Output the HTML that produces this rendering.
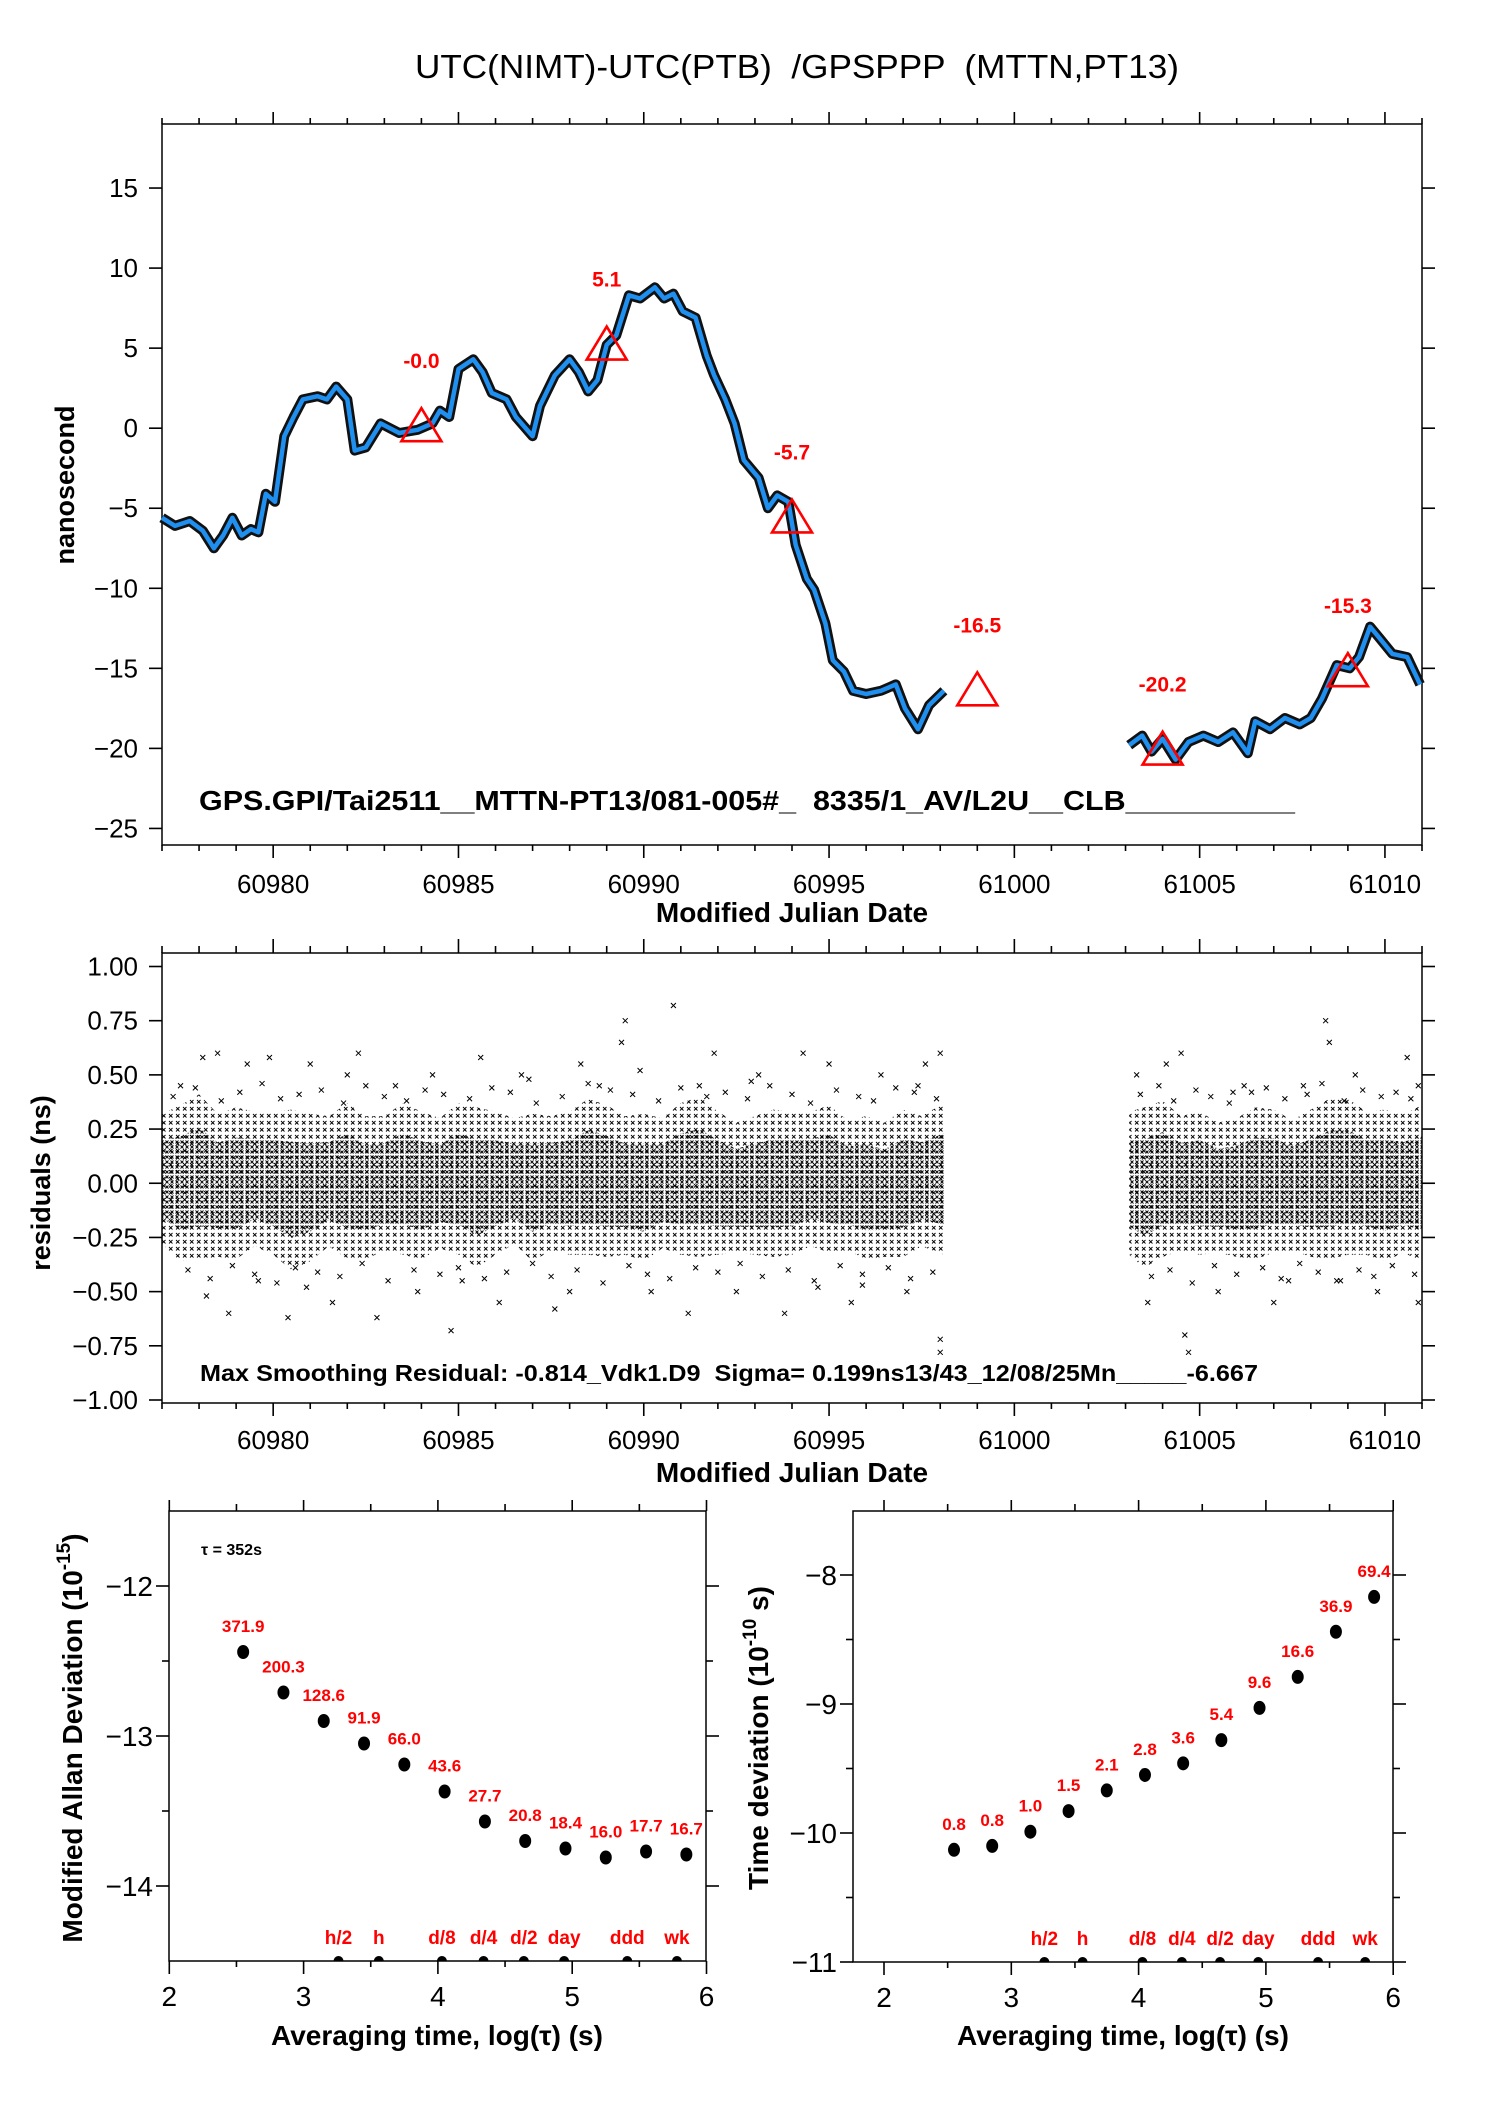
<!DOCTYPE html>
<html><head><meta charset="utf-8"><title>UTC(NIMT)-UTC(PTB) GPSPPP</title>
<style>
html,body{margin:0;padding:0;background:#fff;}
svg{display:block;font-family:"Liberation Sans",Arial,sans-serif;}
.pre{white-space:pre;}
</style></head>
<body>
<svg id="root" width="1488" height="2105" viewBox="0 0 1488 2105" xmlns="http://www.w3.org/2000/svg">
<defs>
<pattern id="crossA" width="7" height="7" patternUnits="userSpaceOnUse"><path d="M1 1l3.5 3.5M4.5 1l-3.5 3.5" stroke="#000" stroke-width="0.9" fill="none"/></pattern>
<pattern id="crossB" width="5" height="5" patternUnits="userSpaceOnUse"><path d="M0.5 0.5l3 3M3.5 0.5l-3 3" stroke="#000" stroke-width="0.9" fill="none"/></pattern>
</defs>
<text class="pre" x="415" y="78" font-size="33" textLength="764" lengthAdjust="spacingAndGlyphs">UTC(NIMT)-UTC(PTB)  /GPSPPP  (MTTN,PT13)</text>

<g id="top">
<rect x="162" y="124" width="1260" height="721" fill="none" stroke="#000" stroke-width="1.5"/>
<text transform="translate(74,485) rotate(-90)" font-size="27" font-weight="bold" text-anchor="middle">nanosecond</text>
<text x="792" y="922" font-size="28" font-weight="bold" text-anchor="middle">Modified Julian Date</text>
<text class="pre" x="199" y="810" font-size="28" font-weight="bold" textLength="1096" lengthAdjust="spacingAndGlyphs">GPS.GPI/Tai2511__MTTN-PT13/081-005#_  8335/1_AV/L2U__CLB__________</text>
<g id="topMarks"></g>
</g>

<g id="mid">
<rect x="162" y="953" width="1260" height="450" fill="none" stroke="#000" stroke-width="1.5"/>
<text transform="translate(50,1183) rotate(-90)" font-size="27" font-weight="bold" text-anchor="middle">residuals (ns)</text>
<text x="792" y="1482" font-size="28" font-weight="bold" text-anchor="middle">Modified Julian Date</text>
<g id="midMarks"></g>
<text class="pre" x="200" y="1381" font-size="23" font-weight="bold" textLength="1058" lengthAdjust="spacingAndGlyphs">Max Smoothing Residual: -0.814_Vdk1.D9  Sigma= 0.199ns13/43_12/08/25Mn_____-6.667</text>
</g>

<g id="left">
<rect x="169" y="1511" width="537" height="450" fill="none" stroke="#000" stroke-width="1.5"/>
<text transform="translate(82,1738) rotate(-90)" font-size="28" font-weight="bold" text-anchor="middle">Modified Allan Deviation (10<tspan font-size="19" dy="-12">-15</tspan><tspan dy="12">)</tspan></text>
<text x="437" y="2045" font-size="28" font-weight="bold" text-anchor="middle">Averaging time, log(τ) (s)</text>
<text x="201" y="1555" font-size="16" font-weight="bold">τ = 352s</text>
<g id="leftMarks"></g>
</g>

<g id="right">
<rect x="853" y="1511" width="540" height="451" fill="none" stroke="#000" stroke-width="1.5"/>
<text transform="translate(768,1738) rotate(-90)" font-size="28" font-weight="bold" text-anchor="middle">Time deviation (10<tspan font-size="19" dy="-12">-10</tspan><tspan dy="12"> s)</tspan></text>
<text x="1123" y="2045" font-size="28" font-weight="bold" text-anchor="middle">Averaging time, log(τ) (s)</text>
<g id="rightMarks"></g>
</g>
</svg>

<script>
// ---------- Top panel data ----------
const seg1MJD = [60977.0,60977.35,60977.75,60978.1,60978.4,60978.65,60978.9,60979.15,60979.4,60979.6,60979.8,60980.05,60980.3,60980.55,60980.8,60981.2,60981.45,60981.7,60982.0,60982.2,60982.5,60982.9,60983.4,60983.9,60984.3,60984.5,60984.75,60985.0,60985.4,60985.65,60985.9,60986.3,60986.55,60987.0,60987.2,60987.6,60988.0,60988.25,60988.5,60988.75,60989.0,60989.26,60989.6,60989.9,60990.3,60990.55,60990.8,60991.05,60991.4,60991.7,60991.9,60992.2,60992.45,60992.7,60993.1,60993.35,60993.6,60993.9,60994.1,60994.4,60994.6,60994.9,60995.1,60995.4,60995.65,60996.0,60996.4,60996.8,60997.05,60997.4,60997.7,60998.1];
const seg1Val = [-5.6,-6.1,-5.8,-6.4,-7.5,-6.7,-5.6,-6.7,-6.3,-6.5,-4.1,-4.6,-0.5,0.7,1.8,2.0,1.8,2.6,1.8,-1.4,-1.2,0.3,-0.3,-0.1,0.3,1.1,0.7,3.7,4.3,3.5,2.2,1.8,0.7,-0.5,1.4,3.3,4.3,3.5,2.3,3.0,5.2,5.8,8.3,8.1,8.8,8.1,8.4,7.3,6.9,4.5,3.3,1.8,0.3,-2.0,-3.1,-5.0,-4.2,-4.6,-7.3,-9.4,-10.1,-12.2,-14.5,-15.2,-16.4,-16.6,-16.4,-16.0,-17.5,-18.8,-17.3,-16.4];
const seg2MJD = [61003.1,61003.45,61003.7,61004.0,61004.35,61004.7,61005.1,61005.5,61005.9,61006.3,61006.5,61006.9,61007.3,61007.7,61008.0,61008.3,61008.7,61009.05,61009.3,61009.6,61009.85,61010.2,61010.6,61010.95];
const seg2Val = [-19.8,-19.2,-20.2,-19.4,-20.7,-19.6,-19.2,-19.6,-19.0,-20.3,-18.3,-18.8,-18.1,-18.5,-18.1,-16.9,-14.8,-15.0,-14.3,-12.4,-13.1,-14.1,-14.3,-16.0];
const triMJD = [60984,60989,60994,60999,61004,61009];
const triVal = [0.0,5.1,-5.7,-16.5,-20.2,-15.3];
const triLabels = ["-0.0","5.1","-5.7","-16.5","-20.2","-15.3"];
const topYTicks = [15,10,5,0,-5,-10,-15,-20,-25];
const topXTicks = [60980,60985,60990,60995,61000,61005,61010];

// ---------- Residual panel data ----------
const resMJD1 = [60977,60977.5,60978,60978.5,60979,60979.5,60980,60980.5,60981,60981.5,60982,60982.5,60983,60983.5,60984,60984.5,60985,60985.5,60986,60986.5,60987,60987.5,60988,60988.5,60989,60989.5,60990,60990.5,60991,60991.5,60992,60992.5,60993,60993.5,60994,60994.5,60995,60995.5,60996,60996.5,60997,60997.5,60998.1];
const resCtr1 = [0.02,0.0,0.03,-0.01,0.0,0.02,0.0,-0.03,-0.02,0.01,0.01,-0.02,0.0,0.02,-0.01,0.0,0.02,-0.02,0.0,0.01,-0.02,0.0,0.0,0.03,0.01,-0.01,-0.02,0.0,0.02,0.03,0.0,-0.02,-0.01,0.0,0.0,0.02,0.02,-0.01,-0.02,-0.03,0.0,0.01,0.02];
const resSpr1 = [0.30,0.36,0.38,0.33,0.35,0.31,0.33,0.37,0.34,0.30,0.36,0.33,0.31,0.35,0.34,0.30,0.35,0.37,0.33,0.29,0.34,0.31,0.33,0.36,0.35,0.32,0.34,0.30,0.35,0.37,0.33,0.30,0.32,0.34,0.33,0.31,0.34,0.30,0.33,0.31,0.34,0.30,0.35];
const resMJD2 = [61003.1,61003.5,61004,61004.5,61005,61005.5,61006,61006.5,61007,61007.5,61008,61008.5,61009,61009.5,61010,61010.5,61011];
const resCtr2 = [0.0,-0.02,0.02,0.0,0.0,-0.02,-0.02,0.0,0.01,-0.01,0.0,0.02,0.03,0.0,-0.01,0.0,0.0];
const resSpr2 = [0.33,0.37,0.36,0.31,0.33,0.30,0.32,0.35,0.33,0.30,0.34,0.37,0.36,0.33,0.35,0.32,0.36];
const outMJD = [60977.5,60978.1,60978.5,60978.8,60979.3,60979.9,60980.4,60981.0,60981.6,60982.3,60982.8,60983.3,60984.3,60984.8,60985.6,60986.1,60986.7,60987.6,60988.3,60988.8,60989.4,60989.5,60990.2,60990.8,60991.2,60991.9,60992.5,60993.1,60993.8,60994.3,60995.0,60995.6,60996.4,60997.1,60997.6,60998.0,60998.0,60998.0,61003.3,61003.6,61004.1,61004.6,61004.7,61004.5,61005.5,61006.2,61007.0,61007.8,61008.4,61008.5,61008.8,61009.2,61009.8,61010.6,61010.9,61010.9,60978.2,60980.9,60983.9,60986.9,60989.9,60992.9,60995.9,61005.9,61007.4,60979.6,60982.0,60985.1,60988.0,60991.5,60994.7,60997.4,
  60977.3,60977.9,60978.6,60979.1,60979.7,60980.2,60980.7,60981.3,60981.9,60982.5,60983.0,60983.6,60984.1,60984.6,60985.3,60985.9,60986.4,60987.1,60987.8,60988.5,60989.1,60989.7,60990.4,60991.0,60991.7,60992.2,60992.8,60993.4,60994.0,60994.5,60995.2,60995.8,60996.2,60996.8,60997.3,60997.9,61003.4,61003.9,61004.3,61004.9,61005.3,61005.8,61006.4,61006.8,61007.3,61007.9,61008.3,61008.9,61009.4,61009.9,61010.3,61010.7,
  60977.7,60978.3,60978.9,60979.5,60980.1,60980.6,60981.2,60981.8,60982.4,60983.1,60983.8,60984.5,60985.0,60985.7,60986.3,60987.0,60987.5,60988.2,60988.9,60989.6,60990.1,60990.7,60991.4,60992.0,60992.6,60993.2,60993.9,60994.6,60995.3,60995.9,60996.6,60997.2,60997.8,61003.7,61004.2,61004.8,61005.4,61006.0,61006.7,61007.2,61007.7,61008.2,61008.7,61009.3,61009.7,61010.2,61010.8];
const outVal = [0.45,0.58,0.6,-0.6,0.55,0.58,-0.62,0.55,-0.55,0.6,-0.62,0.45,0.5,-0.68,0.58,-0.55,0.5,-0.58,0.55,0.45,0.65,0.75,-0.5,0.82,-0.6,0.6,-0.5,0.5,-0.6,0.6,0.55,-0.55,0.5,-0.5,0.55,0.6,-0.72,-0.78,0.5,-0.55,0.55,-0.7,-0.78,0.6,-0.5,0.45,-0.55,0.45,0.75,0.65,-0.45,0.5,-0.5,0.58,-0.55,0.45,-0.52,-0.48,-0.5,0.48,0.52,0.47,-0.47,0.42,-0.45,-0.45,0.5,-0.45,-0.5,0.45,-0.48,0.45,
  0.40,0.44,0.38,0.42,0.46,0.39,0.41,0.43,0.37,0.45,0.40,0.38,0.43,0.41,0.39,0.44,0.42,0.37,0.40,0.46,0.43,0.41,0.38,0.44,0.40,0.42,0.39,0.45,0.41,0.37,0.43,0.40,0.38,0.44,0.42,0.39,0.41,0.45,0.38,0.43,0.40,0.37,0.42,0.44,0.39,0.41,0.46,0.38,0.43,0.40,0.42,0.39,
  -0.40,-0.44,-0.38,-0.42,-0.46,-0.39,-0.41,-0.43,-0.37,-0.45,-0.40,-0.42,-0.39,-0.44,-0.41,-0.37,-0.43,-0.40,-0.46,-0.38,-0.42,-0.44,-0.39,-0.41,-0.37,-0.43,-0.40,-0.45,-0.38,-0.42,-0.39,-0.44,-0.41,-0.43,-0.40,-0.46,-0.38,-0.42,-0.39,-0.44,-0.37,-0.41,-0.45,-0.40,-0.43,-0.38,-0.42];
const midYTicks = [1.00,0.75,0.50,0.25,0.00,-0.25,-0.50,-0.75,-1.00];
const midYLabels = ["1.00","0.75","0.50","0.25","0.00","\u22120.25","\u22120.50","\u22120.75","\u22121.00"];

// ---------- Stability data ----------
const logTau = [2.55,2.85,3.15,3.45,3.75,4.05,4.35,4.65,4.95,5.25,5.55,5.85];
const mdevVal = [-12.44,-12.71,-12.90,-13.05,-13.19,-13.37,-13.57,-13.70,-13.75,-13.81,-13.77,-13.79];
const mdevLabels = ["371.9","200.3","128.6","91.9","66.0","43.6","27.7","20.8","18.4","16.0","17.7","16.7"];
const tdevVal = [-10.13,-10.10,-9.99,-9.83,-9.67,-9.55,-9.46,-9.28,-9.03,-8.79,-8.44,-8.17];
const tdevLabels = ["0.8","0.8","1.0","1.5","2.1","2.8","3.6","5.4","9.6","16.6","36.9","69.4"];
const markerTau = [3.26,3.56,4.03,4.34,4.64,4.94,5.41,5.78];
const markerNames = ["h/2","h","d/8","d/4","d/2","day","ddd","wk"];
const mdevYTicks = [-12,-13,-14];
const tdevYTicks = [-8,-9,-10,-11];
const logXTicks = [2,3,4,5,6];

// ---------- axis functions ----------
const xT = m => 162 + (m - 60977) * (1260 / 34);
const yT = v => 124 + (19 - v) * 16.01;
const yM = v => 966.5 + (1 - v) * 216.75;
const xL = l => 169.3 + (l - 2) * 134.3;
const yL = v => 1586 + (-12 - v) * 150;
const xR = l => 884 + (l - 2) * 127.3;
const yR = v => 1575 + (-8 - v) * 129;

const NS = "http://www.w3.org/2000/svg";
function mk(tag, attrs, parent) {
  const e = document.createElementNS(NS, tag);
  for (const k in attrs) e.setAttribute(k, attrs[k]);
  parent.appendChild(e);
  return e;
}
function line(p, x1, y1, x2, y2, w) {
  const e = mk("line", {x1: x1, y1: y1, x2: x2, y2: y2, stroke: "#000", "stroke-width": w || 1.6}, p);
  
  
  return e;
}
function txt(p, x, y, s, size, anchor, color, bold) {
  const e = mk("text", {x: x, y: y, "font-size": size, "text-anchor": anchor || "middle", fill: color || "#000"}, p);
  if (bold) e.setAttribute("font-weight", "bold");
  e.textContent = s;
  return e;
}

// ---------- top panel ----------
const tg = document.getElementById("topMarks");
for (let d = 60977; d <= 61011; d++) {
  const x = xT(d), maj = d % 5 === 0;
  line(tg, x, 124, x, 124 - (maj ? 12 : 6));
  line(tg, x, 845, x, 845 + (maj ? 13 : 6));
}
topXTicks.forEach(m => {
  const t = txt(tg, xT(m), 893, String(m), 26);
  
  
});
topYTicks.forEach(v => {
  line(tg, 149, yT(v), 162, yT(v));
  line(tg, 1422, yT(v), 1435, yT(v));
  const t = txt(tg, 138, yT(v) + 9, String(v).replace("-", "\u2212"), 26, "end");
  
  
});
function pathOf(ms, vs) {
  return ms.map((m, i) => (i ? "L" : "M") + xT(m).toFixed(1) + " " + yT(vs[i]).toFixed(1)).join(" ");
}
[[seg1MJD, seg1Val, 1], [seg2MJD, seg2Val, 2]].forEach(([ms, vs, n]) => {
  const halo = mk("path", {d: pathOf(ms, vs), fill: "none", stroke: "#111", "stroke-width": 10, "stroke-linejoin": "round"}, tg);
  
  
  const ln = mk("path", {d: pathOf(ms, vs), fill: "none", stroke: "#1f8ff0", "stroke-width": 4.5, "stroke-linejoin": "round"}, tg);
  
  
});
triMJD.forEach((m, i) => {
  const x = xT(m), y = yT(triVal[i]);
  const tri = mk("polygon", {points: `${x-20},${y+13} ${x+20},${y+13} ${x},${y-20}`, fill: "none", stroke: "#f00", "stroke-width": 2.6}, tg);
  
  
  const t = txt(tg, x, y - 60, triLabels[i], 21, "middle", "#f00", true);
  
  
});

// ---------- middle panel ----------
const mg = document.getElementById("midMarks");
for (let d = 60977; d <= 61011; d++) {
  const x = xT(d), maj = d % 5 === 0;
  line(mg, x, 953, x, 953 - (maj ? 14 : 7));
  line(mg, x, 1403, x, 1403 + (maj ? 13 : 6));
}
topXTicks.forEach(m => {
  const t = txt(mg, xT(m), 1449, String(m), 26);
  
  
});
midYTicks.forEach((v, i) => {
  line(mg, 149, yM(v), 162, yM(v));
  line(mg, 1422, yM(v), 1435, yM(v));
  const t = txt(mg, 138, yM(v) + 9, midYLabels[i], 26, "end");
  
  
});
function bandPts(ms, cs, ss, f) {
  const up = ms.map((m, i) => xT(m).toFixed(1) + "," + yM(cs[i] + ss[i] * f).toFixed(1));
  const lo = ms.map((m, i) => xT(m).toFixed(1) + "," + yM(cs[i] - ss[i] * f).toFixed(1)).reverse();
  return up.concat(lo).join(" ");
}
[[resMJD1, resCtr1, resSpr1, 1], [resMJD2, resCtr2, resSpr2, 2]].forEach(([ms, cs, ss, n]) => {
  const outer = mk("polygon", {points: bandPts(ms, cs, ss, 1), fill: "url(#crossA)"}, mg);
  
  
  const inner = mk("polygon", {points: bandPts(ms, cs, ss, 0.6), fill: "url(#crossB)"}, mg);
  
  
});
outMJD.forEach((m, i) => {
  const x = xT(m), y = yM(outVal[i]);
  const c = mk("path", {d: `M${x-2.5} ${y-2.5}L${x+2.5} ${y+2.5}M${x+2.5} ${y-2.5}L${x-2.5} ${y+2.5}`, stroke: "#000", "stroke-width": 1}, mg);
  
  
});

// ---------- stability panels ----------
function stabPanel(gid, xf, yf, x0, x1, yTop, yBot, yTicks, vals, labels, prefix) {
  const g = document.getElementById(gid);
  for (let l = 1.5; l <= 6.01; l += 0.5) {
    const x = xf(l);
    if (x < x0 - 1 || x > x1 + 1) continue;
    const maj = Math.abs(l - Math.round(l)) < 0.01;
    line(g, x, yTop, x, yTop - (maj ? 11 : 7));
    line(g, x, yBot, x, yBot + (maj ? 13 : 6));
  }
  logXTicks.forEach(l => {
    const t = txt(g, xf(l), yBot + 45, String(l), 28);
    
    
  });
  yTicks.forEach(v => {
    line(g, x0 - 13, yf(v), x0, yf(v));
    line(g, x1, yf(v), x1 + 13, yf(v));
    const hv = v - 0.5, yh = yf(hv);
    if (yh > yTop + 2 && yh < yBot - 2) { line(g, x0 - 7, yh, x0, yh); line(g, x1, yh, x1 + 7, yh); }
    const t = txt(g, x0 - 16, yf(v) + 10, String(v).replace("-", "\u2212"), 28, "end");
    
    
  });
  logTau.forEach((l, i) => {
    const x = xf(l), y = yf(vals[i]);
    const d = mk("ellipse", {cx: x, cy: y, rx: 6, ry: 7, fill: "#000"}, g);
    
    
    const t = txt(g, x, y - 20, labels[i], 17, "middle", "#f00", true);
    
    
  });
  markerTau.forEach((l, i) => {
    const x = xf(l);
    const d = mk("path", {d: `M${x-5} ${yBot}A5 5 0 0 1 ${x+5} ${yBot}Z`, fill: "#000"}, g);
    
    
    const t = txt(g, x, yBot - 17, markerNames[i], 19, "middle", "#f00", true);
    
    
  });
}
stabPanel("leftMarks", xL, yL, 169, 706, 1511, 1961, mdevYTicks, mdevVal, mdevLabels, "mdev");
stabPanel("rightMarks", xR, yR, 853, 1393, 1511, 1962, tdevYTicks, tdevVal, tdevLabels, "tdev");
</script>
</body></html>
